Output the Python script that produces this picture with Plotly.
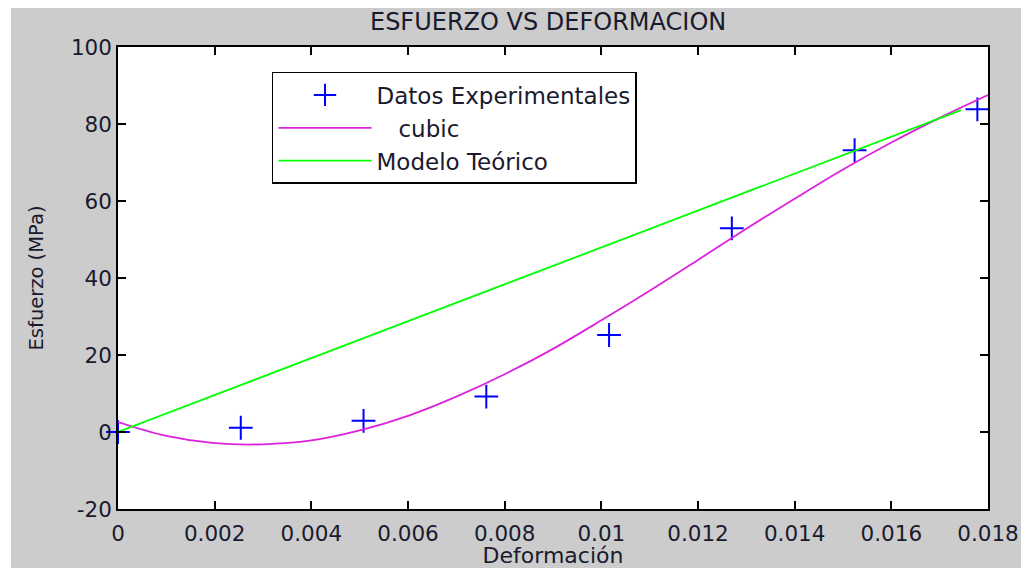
import plotly.graph_objects as go

# datos experimentales
deformacion = [0, 0.00254, 0.00508, 0.00762, 0.01016, 0.0127, 0.01524, 0.01778]
esfuerzo = [0, 1.1, 2.9, 9.2, 25.2, 52.9, 73.2, 83.8]

# ajuste cubico
x_cubic = [0, 0.001, 0.002, 0.003, 0.004, 0.005, 0.006, 0.007, 0.008, 0.009,
           0.010, 0.011, 0.012, 0.013, 0.014, 0.015, 0.016, 0.017, 0.018]
y_cubic = [2.6, -1.0, -2.9, -3.2, -2.2, 0.4, 4.2, 9.2, 15.0, 21.6,
           29.0, 36.7, 44.7, 52.8, 60.6, 68.2, 75.2, 81.6, 87.5]

# modelo teorico (recta)
x_modelo = [0, 0.01744]
y_modelo = [0, 83.6]

x_ticks = [0, 0.002, 0.004, 0.006, 0.008, 0.01, 0.012, 0.014, 0.016, 0.018]
x_labels = ["0", "0.002", "0.004", "0.006", "0.008", "0.01", "0.012", "0.014", "0.016", "0.018"]
y_ticks = [-20, 0, 20, 40, 60, 80, 100]
y_labels = ["-20", "0", "20", "40", "60", "80", "100"]

FONT = "DejaVu Sans, Arial, sans-serif"
TXT = "#1a1a2e"
GRAY = "#cccccc"

fig = go.Figure()

fig.add_trace(go.Scatter(x=deformacion, y=esfuerzo, mode="markers", name="Datos Experimentales",
                         marker=dict(symbol="cross-thin", size=17, line=dict(color="#0000ff", width=2)),
                         cliponaxis=False))
fig.add_trace(go.Scatter(x=x_cubic, y=y_cubic, mode="lines", name="\u00a0\u00a0\u00a0cubic",
                         line=dict(color="#dd22dd", width=1.8, shape="spline")))
fig.add_trace(go.Scatter(x=x_modelo, y=y_modelo, mode="lines", name="Modelo Teórico",
                         line=dict(color="#00ff00", width=1.8)))

axis_style = dict(showline=True, linecolor="black", linewidth=1.5, mirror="ticks",
                  ticks="inside", ticklen=8, tickwidth=1.5, tickcolor="black",
                  showgrid=False, zeroline=False, automargin=False,
                  tickfont=dict(family=FONT, size=21.5, color=TXT))

# la pagina tiene un margen de 8px, la figura se desplaza para compensarlo
fig.update_layout(
    width=1021, height=560,
    paper_bgcolor=GRAY, plot_bgcolor="white",
    margin=dict(l=110, r=41, t=39, b=59),
    showlegend=True,
    title=dict(text="ESFUERZO VS DEFORMACION", x=0.529, xanchor="center", y=0.975, yanchor="middle",
               font=dict(family=FONT, size=24, color=TXT), automargin=False),
    xaxis=dict(axis_style, range=[0, 0.018], tickvals=x_ticks, ticktext=x_labels, ticklabelstandoff=4,
               title=dict(text="Deformación", standoff=3, font=dict(family=FONT, size=22, color=TXT))),
    yaxis=dict(axis_style, range=[-20, 100], tickvals=y_ticks, ticktext=y_labels,
               title=dict(text="Esfuerzo (MPa)", standoff=22, font=dict(family=FONT, size=19.5, color=TXT))),
    legend=dict(x=0.177, y=0.946, xanchor="left", yanchor="top", bgcolor="white",
                bordercolor="black", borderwidth=1.5, itemwidth=93,
                font=dict(family=FONT, size=23, color=TXT), tracegroupgap=0),
    shapes=[
        dict(type="rect", xref="paper", yref="paper", x0=-0.14, x1=-0.123, y0=-0.2, y1=1.2,
             fillcolor="white", line=dict(width=0), layer="above"),
    ],
)

fig.write_html("out.html")
